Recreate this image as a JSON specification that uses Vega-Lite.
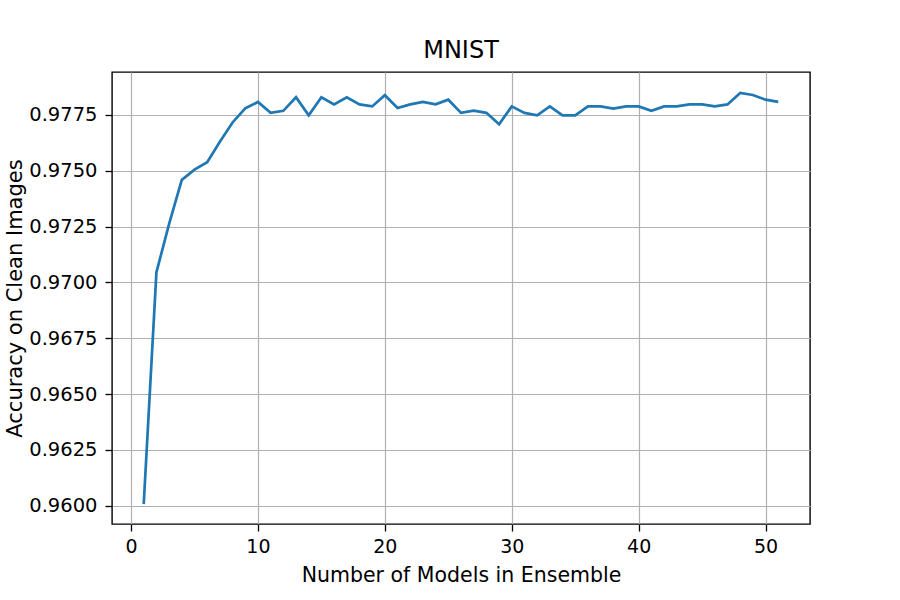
{
  "$schema": "https://vega.github.io/schema/vega-lite/v6.json",
  "width": 698,
  "height": 452,
  "autosize": {"type": "none"},
  "padding": {"left": 112, "top": 72, "right": 90, "bottom": 76},
  "background": "white",
  "title": {"text": "MNIST", "font": "DejaVu Sans", "fontSize": 24, "fontWeight": "normal", "color": "black", "offset": 9},
  "data": {"values": [
    {"n": 1, "acc": 0.96007},
    {"n": 2, "acc": 0.97045},
    {"n": 3, "acc": 0.97262},
    {"n": 4, "acc": 0.97459},
    {"n": 5, "acc": 0.97505},
    {"n": 6, "acc": 0.97538},
    {"n": 7, "acc": 0.9763},
    {"n": 8, "acc": 0.97716},
    {"n": 9, "acc": 0.97779},
    {"n": 10, "acc": 0.97808},
    {"n": 11, "acc": 0.97759},
    {"n": 12, "acc": 0.97768},
    {"n": 13, "acc": 0.97829},
    {"n": 14, "acc": 0.97748},
    {"n": 15, "acc": 0.97829},
    {"n": 16, "acc": 0.97797},
    {"n": 17, "acc": 0.97829},
    {"n": 18, "acc": 0.97797},
    {"n": 19, "acc": 0.97788},
    {"n": 20, "acc": 0.97838},
    {"n": 21, "acc": 0.97781},
    {"n": 22, "acc": 0.97797},
    {"n": 23, "acc": 0.97808},
    {"n": 24, "acc": 0.97797},
    {"n": 25, "acc": 0.97818},
    {"n": 26, "acc": 0.97759},
    {"n": 27, "acc": 0.97769},
    {"n": 28, "acc": 0.97759},
    {"n": 29, "acc": 0.97708},
    {"n": 30, "acc": 0.97788},
    {"n": 31, "acc": 0.97759},
    {"n": 32, "acc": 0.97748},
    {"n": 33, "acc": 0.97788},
    {"n": 34, "acc": 0.97748},
    {"n": 35, "acc": 0.97748},
    {"n": 36, "acc": 0.97788},
    {"n": 37, "acc": 0.97788},
    {"n": 38, "acc": 0.97778},
    {"n": 39, "acc": 0.97788},
    {"n": 40, "acc": 0.97788},
    {"n": 41, "acc": 0.97768},
    {"n": 42, "acc": 0.97788},
    {"n": 43, "acc": 0.97788},
    {"n": 44, "acc": 0.97797},
    {"n": 45, "acc": 0.97797},
    {"n": 46, "acc": 0.97788},
    {"n": 47, "acc": 0.97797},
    {"n": 48, "acc": 0.97848},
    {"n": 49, "acc": 0.97839},
    {"n": 50, "acc": 0.97818},
    {"n": 51, "acc": 0.97808}
  ]},
  "mark": {"type": "line", "color": "#1f77b4", "strokeWidth": 2.7, "clip": true},
  "encoding": {
    "x": {
      "field": "n", "type": "quantitative",
      "scale": {"domain": [-1.5, 53.5], "nice": false, "zero": false},
      "axis": {"title": "Number of Models in Ensemble", "values": [0, 10, 20, 30, 40, 50], "format": "d", "grid": true, "titleFontSize": 20.5, "titlePadding": 9}
    },
    "y": {
      "field": "acc", "type": "quantitative",
      "scale": {"domain": [0.95918, 0.97942], "nice": false, "zero": false},
      "axis": {"title": "Accuracy on Clean Images", "values": [0.96, 0.9625, 0.965, 0.9675, 0.97, 0.9725, 0.975, 0.9775], "format": ".4f", "grid": true, "titleFontSize": 21, "titlePadding": 3, "labelPadding": 8, "labelFontSize": 19.5}
    }
  },
  "config": {
    "font": "DejaVu Sans",
    "view": {"stroke": "black", "strokeWidth": 1.4},
    "axis": {
      "domain": false,
      "gridColor": "#b0b0b0",
      "gridWidth": 1.2,
      "gridOpacity": 1,
      "tickColor": "black",
      "tickSize": 7,
      "tickWidth": 1.3,
      "labelColor": "black",
      "labelFont": "DejaVu Sans",
      "labelFontSize": 19,
      "labelPadding": 6,
      "titleFont": "DejaVu Sans",
      "titleFontWeight": "normal",
      "titleColor": "black"
    }
  }
}
